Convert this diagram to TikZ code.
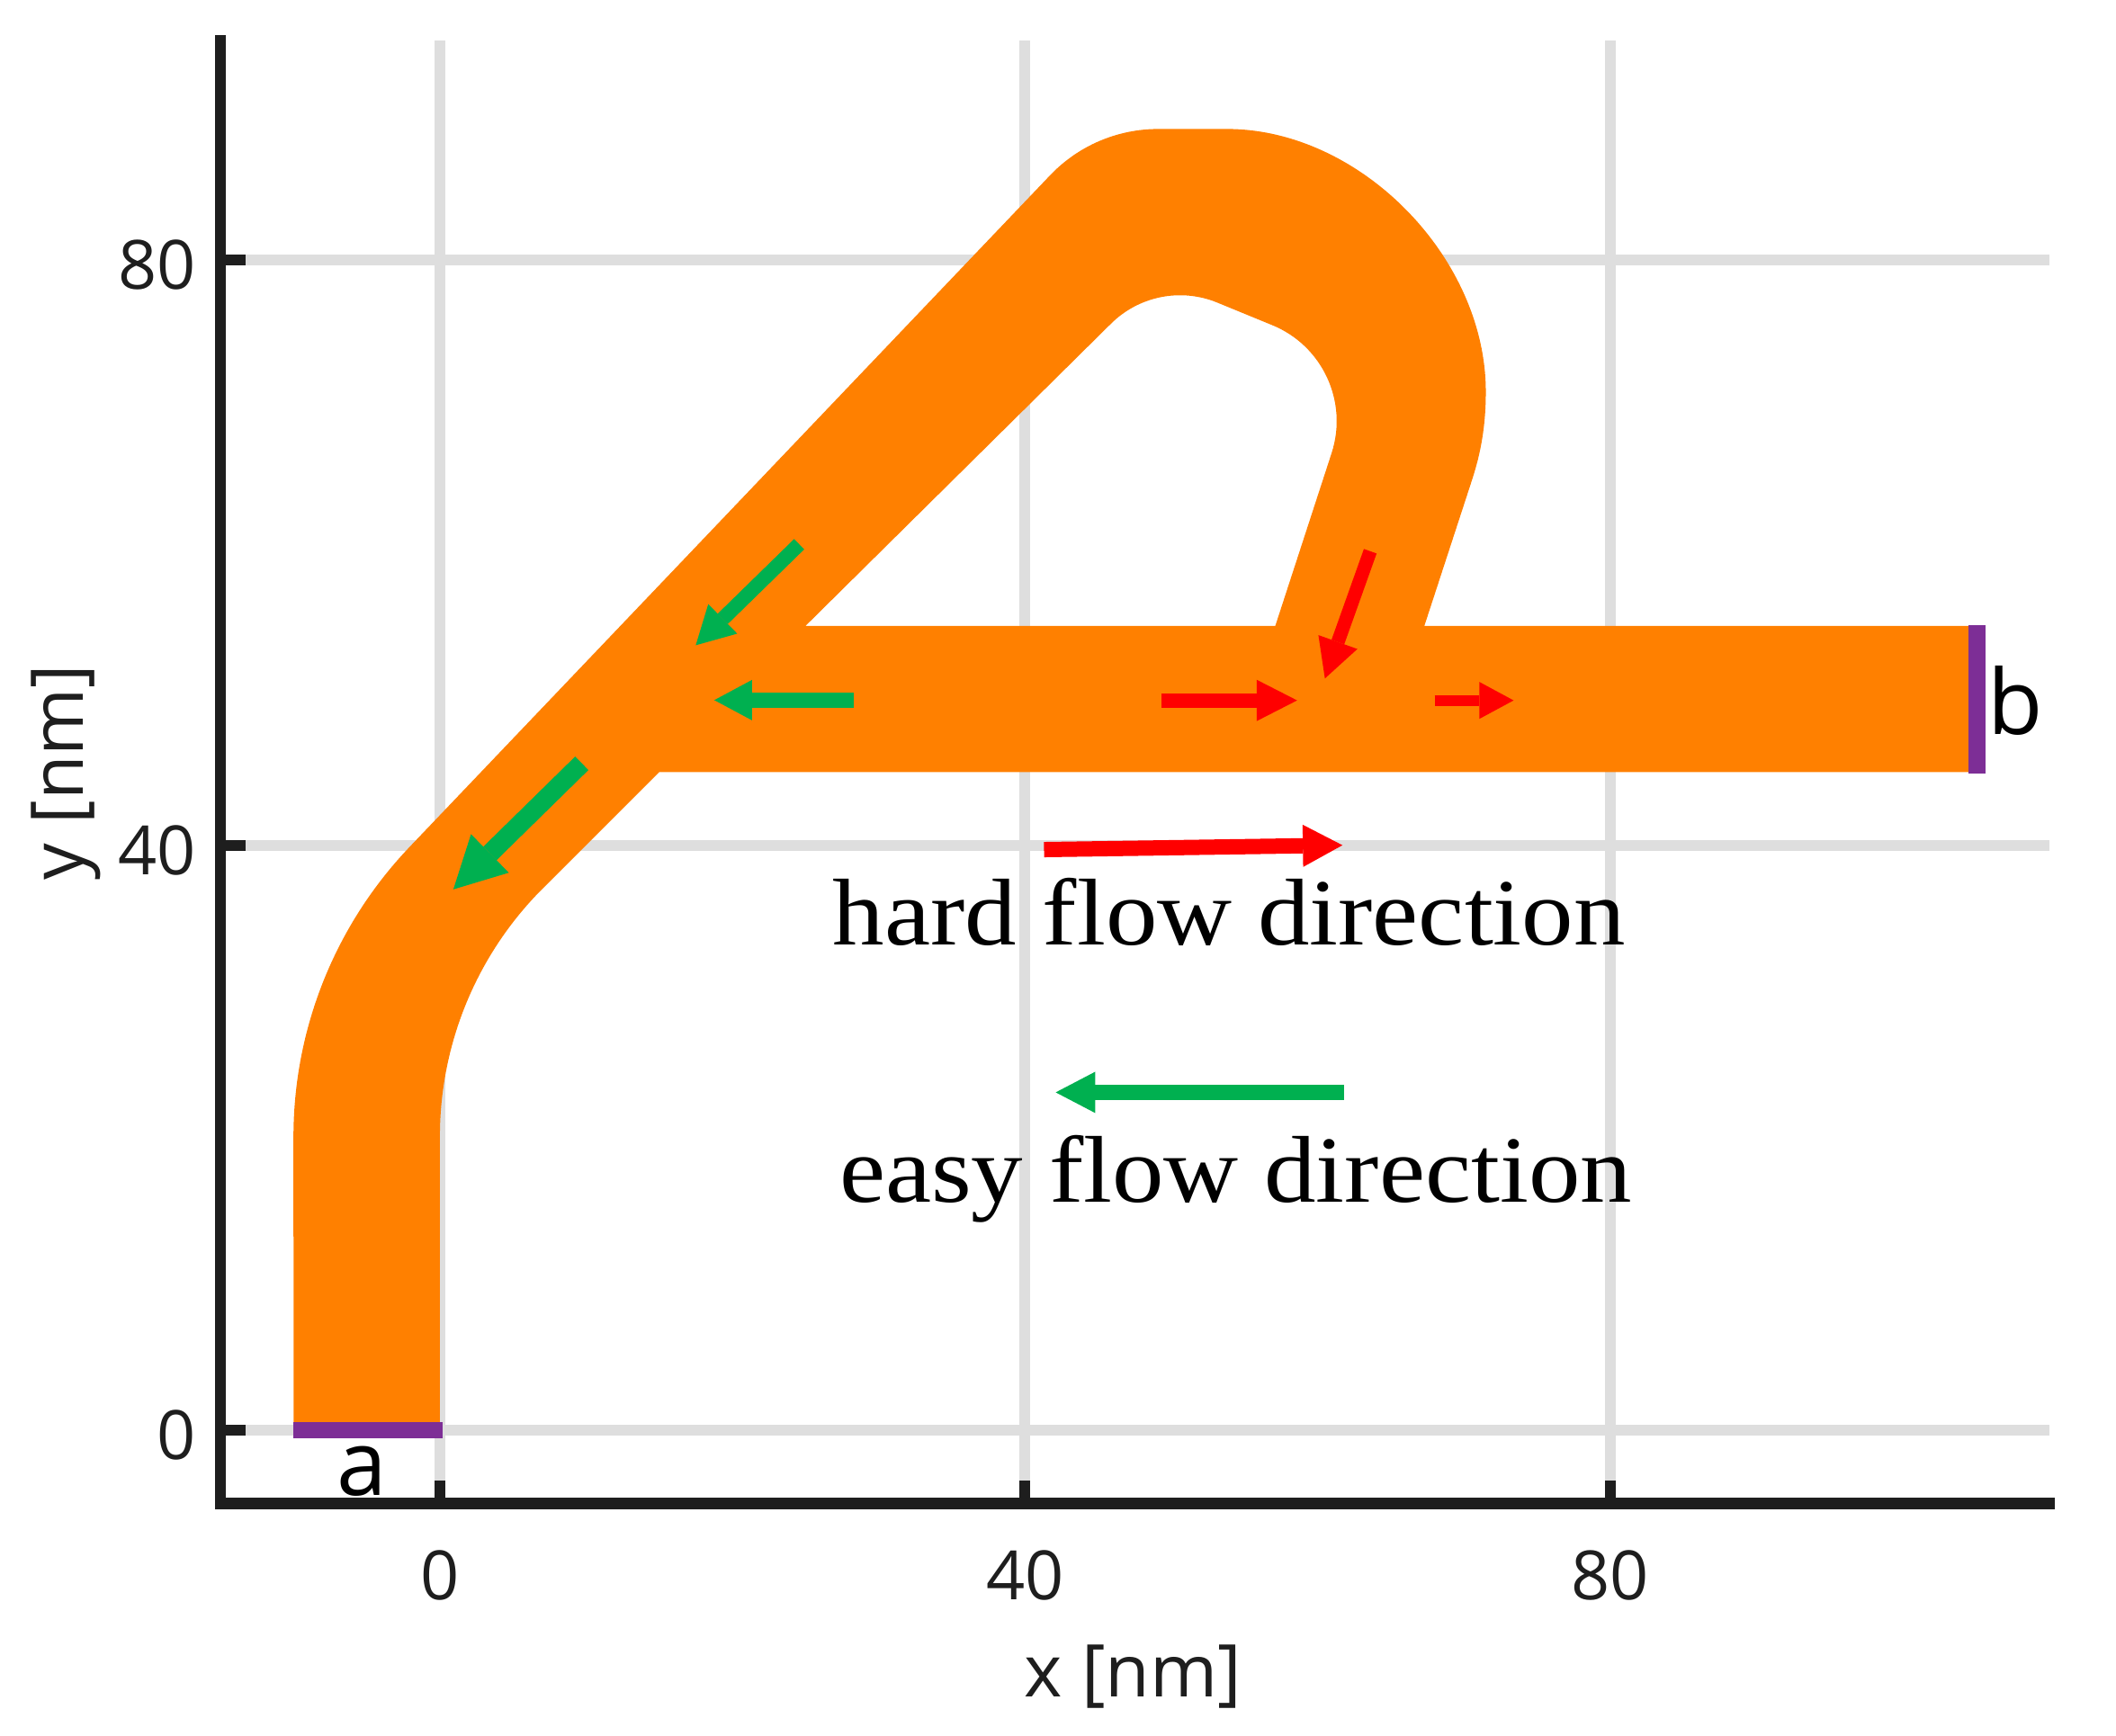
\documentclass[tikz,border=0pt]{standalone}
\usepackage{fontspec}
\setmainfont{Liberation Serif}
\newfontfamily\sansf{Open Sans}
\newfontfamily\serifw[FakeStretch=1.09]{Liberation Serif}
\usetikzlibrary{arrows.meta}
\definecolor{orng}{RGB}{255,128,0}
\definecolor{grn}{RGB}{0,176,80}
\definecolor{rd}{RGB}{255,0,0}
\definecolor{prpl}{RGB}{125,46,150}
\definecolor{gridgray}{RGB}{222,222,222}
\definecolor{axblack}{RGB}{30,30,30}
\begin{document}
\begin{tikzpicture}[x=0.1626cm, y=0.1626cm,
  gridline/.style={draw=gridgray, line width=0.12cm},
  axisline/.style={draw=axblack, line width=0.125cm, line cap=rect},
  tickmark/.style={draw=axblack, line width=0.12cm},
  ticklbl/.style={font=\sansf\fontsize{21.5}{24}\selectfont, text=axblack, inner sep=0pt},
  axlbl/.style={font=\sansf\fontsize{23}{26}\selectfont, text=axblack, inner sep=0pt},
  endlbl/.style={font=\sansf\fontsize{28.5}{32}\selectfont, text=black, inner sep=0pt},
  flowtxt/.style={font=\serifw\fontsize{30}{34}\selectfont, text=black, inner sep=0pt},
  port/.style={draw=prpl, line width=#1},
  flowarr/.style n args={4}{draw=#1, line width=#2, -{Triangle[length=#3, width=#4, line width=0pt]}},
]
\useasboundingbox (-30.07,-20.85) rectangle (114.58,97.79);

% grid
\foreach \v in {0,40,80} {
  \draw[gridline] (\v,-5) -- (\v,95);
  \draw[gridline] (-15,\v) -- (110,\v);
}

% axes
\draw[axisline] (-15,95) -- (-15,-5) -- (110,-5);
\foreach \v in {0,40,80} {
  \draw[tickmark] (\v,-5) -- (\v,-3.45);
  \draw[tickmark] (-15,\v) -- (-13.3,\v);
}

% channel
\fill[orng, even odd rule]
  (-10,0) -- (0,0) -- (0,20.07)
  arc[start angle=180, end angle=135, radius=24]
  -- (15,45) -- (105,45) -- (105,55) -- (67.3,55)
  -- (70.5,64.8) .. controls (71.1,66.6) and (71.5,68.5) .. (71.5,71.0)
  .. controls (71.5,80.2) and (62.9,88.97) .. (53.8,88.97)
  -- (49.1,88.97)
  arc[start angle=90, end angle=136.37, radius=10.2]
  -- (-2.08,39.87)
  arc[start angle=136.37, end angle=180, radius=28.7]
  -- cycle
  (25,55) -- (45.86,75.64)
  arc[start angle=135, end angle=68, radius=6.7]
  -- (56.87,75.57)
  arc[start angle=68, end angle=-18, radius=7.09]
  -- (57.11,55) -- cycle;

% ports
\coordinate (pa1) at (-10,0);
\coordinate (pa2) at (0.2,0);
\coordinate (pb1) at (105.1,44.9);
\coordinate (pb2) at (105.1,55.05);
\draw[port=0.178cm] (pa1) -- (pa2);
\draw[port=0.19cm] (pb1) -- (pb2);

% flow arrows in channel
\coordinate (g1s) at (24.56,60.58); \coordinate (g1e) at (17.49,53.67);
\coordinate (g2s) at (28.3,49.92);  \coordinate (g2e) at (18.76,49.92);
\coordinate (g3s) at (9.7,45.6);    \coordinate (g3e) at (0.92,36.98);
\coordinate (r1s) at (49.3,49.9);   \coordinate (r1e) at (58.6,49.9);
\coordinate (r2s) at (63.6,60.1);   \coordinate (r2e) at (60.5,51.4);
\coordinate (r3s) at (68.0,49.9);   \coordinate (r3e) at (73.4,49.9);
\draw[flowarr={grn}{0.16cm}{0.42cm}{0.46cm}] (g1s) -- (g1e);
\draw[flowarr={grn}{0.17cm}{0.42cm}{0.45cm}] (g2s) -- (g2e);
\draw[flowarr={grn}{0.21cm}{0.57cm}{0.60cm}] (g3s) -- (g3e);
\draw[flowarr={rd}{0.16cm}{0.45cm}{0.46cm}] (r1s) -- (r1e);
\draw[flowarr={rd}{0.15cm}{0.43cm}{0.46cm}] (r2s) -- (r2e);
\draw[flowarr={rd}{0.12cm}{0.38cm}{0.41cm}] (r3s) -- (r3e);

% legend arrows
\coordinate (hs) at (41.3,39.7); \coordinate (he) at (61.7,40.0);
\coordinate (es) at (61.8,23.1); \coordinate (ee) at (42.1,23.1);
\draw[flowarr={rd}{0.17cm}{0.44cm}{0.47cm}] (hs) -- (he);
\draw[flowarr={grn}{0.17cm}{0.44cm}{0.46cm}] (es) -- (ee);

% legend texts
\node[flowtxt, anchor=base] (hard) at (53.96,33.2) {hard flow direction};
\node[flowtxt, anchor=base] (easy) at (54.4,15.6) {easy flow direction};

% port labels
\node[endlbl, anchor=base] (la) at (-5.35,-4.43) {a};
\node[endlbl, anchor=base west] (lb) at (105.8,47.55) {b};

% tick labels
\node[ticklbl, anchor=base east] (ly0) at (-16.65,-2.0) {0};
\node[ticklbl, anchor=base east] (ly40) at (-16.65,38.0) {40};
\node[ticklbl, anchor=base east] (ly80) at (-16.65,78.0) {80};
\node[ticklbl, anchor=base] (lx0) at (0,-11.6) {0};
\node[ticklbl, anchor=base] (lx40) at (40,-11.6) {40};
\node[ticklbl, anchor=base] (lx80) at (80,-11.6) {80};

% axis labels
\node[axlbl, anchor=base] (xl) at (47.4,-18.25) {x [nm]};
\node[axlbl, anchor=base, rotate=90] (yl) at (-24.4,45.0) {y [nm]};
\end{tikzpicture}
\end{document}
